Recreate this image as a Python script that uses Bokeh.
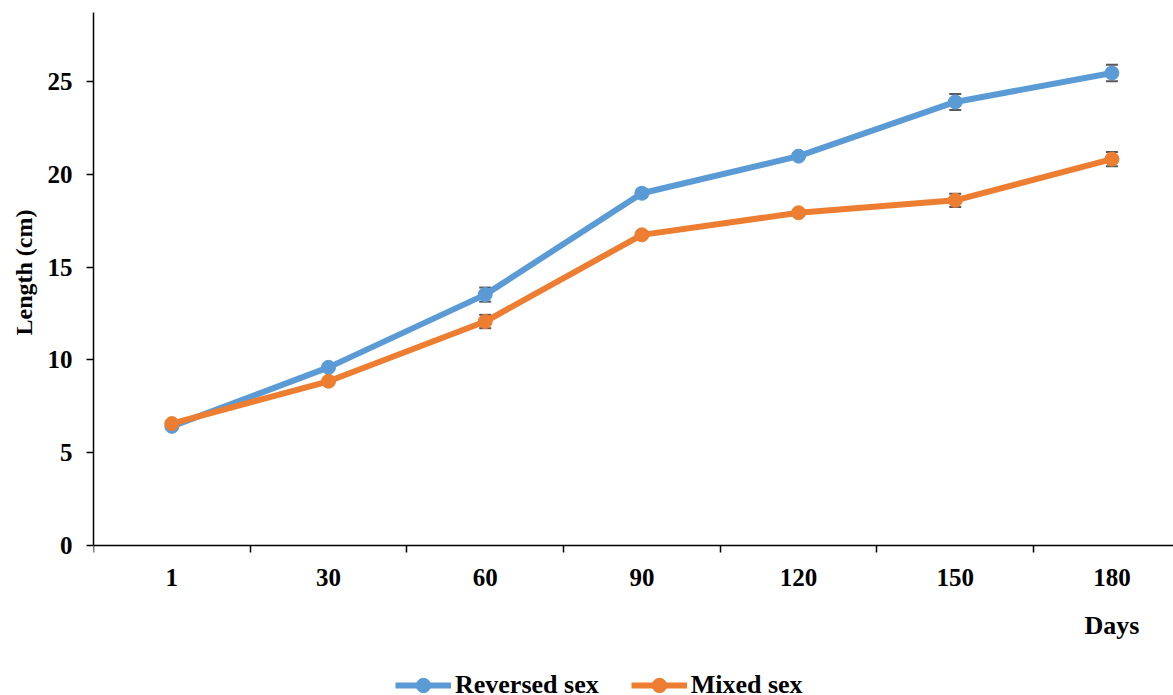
from bokeh.plotting import figure
from bokeh.models import (ColumnDataSource, Range1d, FixedTicker, Whisker, Legend,
                          LegendItem, Label, Title)
from bokeh.embed import file_html
from bokeh.resources import INLINE

days = ["1", "30", "60", "90", "120", "150", "180"]
reversed_sex = [6.42, 9.6, 13.52, 18.98, 20.98, 23.9, 25.46]
reversed_err = [0.12, 0.15, 0.38, 0.2, 0.15, 0.43, 0.45]
mixed_sex = [6.57, 8.85, 12.07, 16.74, 17.93, 18.6, 20.82]
mixed_err = [0.1, 0.12, 0.36, 0.15, 0.15, 0.36, 0.38]

BLUE = "#5B9BD5"
ORANGE = "#ED7D31"
FONT = "Liberation Serif"
Y_TOP = 28.72
Y_BOTTOM = -8.08

xs = [i + 0.5 for i in range(len(days))]

p = figure(width=1173, height=695, output_backend="svg", toolbar_location=None,
           x_range=Range1d(0, 6.893), y_range=Range1d(Y_BOTTOM, Y_TOP),
           min_border_left=93, min_border_right=0, min_border_top=12,
           min_border_bottom=0)
p.outline_line_color = None
p.xgrid.visible = False
p.ygrid.visible = False

src_r = ColumnDataSource(dict(x=xs, y=reversed_sex,
                              lo=[v - e for v, e in zip(reversed_sex, reversed_err)],
                              hi=[v + e for v, e in zip(reversed_sex, reversed_err)]))
src_m = ColumnDataSource(dict(x=xs, y=mixed_sex,
                              lo=[v - e for v, e in zip(mixed_sex, mixed_err)],
                              hi=[v + e for v, e in zip(mixed_sex, mixed_err)]))

lr = p.line("x", "y", source=src_r, line_color=BLUE, line_width=6)
cr = p.scatter("x", "y", source=src_r, size=14, fill_color=BLUE, line_color=BLUE)
lm = p.line("x", "y", source=src_m, line_color=ORANGE, line_width=6)
cm = p.scatter("x", "y", source=src_m, size=14, fill_color=ORANGE, line_color=ORANGE)

for src in (src_r, src_m):
    w = Whisker(source=src, base="x", lower="lo", upper="hi",
                line_color="#595959", line_width=1.5)
    w.upper_head.size = 12
    w.lower_head.size = 12
    w.upper_head.line_color = "#595959"
    w.lower_head.line_color = "#595959"
    w.upper_head.line_width = 2
    w.lower_head.line_width = 2
    p.add_layout(w)

# x axis drawn at y = 0: labels at category centres, tick marks at boundaries
p.xaxis.fixed_location = 0
p.xaxis.ticker = FixedTicker(ticks=xs, minor_ticks=list(range(0, 8)))
p.xaxis.major_label_overrides = {x: d for x, d in zip(xs, days)}
p.xaxis.major_tick_out = 0
p.xaxis.major_tick_in = 0
p.xaxis.minor_tick_out = 7
p.xaxis.minor_tick_in = 0
p.xaxis.minor_tick_line_color = "black"
p.xaxis.minor_tick_line_width = 1.5
p.xaxis.major_label_standoff = 16
p.xaxis.axis_line_width = 1.5

p.yaxis.bounds = (0, Y_TOP)
p.yaxis.ticker = FixedTicker(ticks=[0, 5, 10, 15, 20, 25])
p.yaxis.major_tick_out = 7
p.yaxis.major_tick_in = 0
p.yaxis.minor_tick_line_color = None
p.yaxis.major_tick_line_width = 1.5
p.yaxis.axis_line_width = 1.5
p.yaxis.major_label_standoff = 14

for ax in (p.xaxis, p.yaxis):
    ax.major_label_text_font = FONT
    ax.major_label_text_font_style = "bold"
    ax.major_label_text_font_size = "25px"
    ax.major_label_text_color = "black"
    ax.axis_line_color = "black"
    ax.major_tick_line_color = "black"

# y axis title, placed along the 0..Y_TOP part of the axis
ytitle = Title(text="Length (cm)", align="left", offset=360, standoff=14,
               vertical_align="middle",
               text_font=FONT, text_font_style="bold", text_font_size="24px",
               text_color="black")
p.add_layout(ytitle, "left")

days_lbl = Label(x=xs[-1], y=-4.31, text="Days", text_font=FONT, text_font_style="bold",
                 text_font_size="26px", text_align="center", text_baseline="middle",
                 text_color="black")
p.add_layout(days_lbl)

legend = Legend(items=[LegendItem(label="Reversed sex", renderers=[lr, cr]),
                       LegendItem(label="Mixed sex", renderers=[lm, cm])],
                orientation="horizontal", location=(302, -8),
                label_text_font=FONT, label_text_font_style="bold",
                label_text_font_size="26px", label_text_color="black",
                glyph_width=56, glyph_height=36, label_standoff=4, spacing=32,
                border_line_color=None, background_fill_alpha=0,
                padding=0, margin=0)
p.add_layout(legend)

open("out.html", "w").write(file_html(p, INLINE))
